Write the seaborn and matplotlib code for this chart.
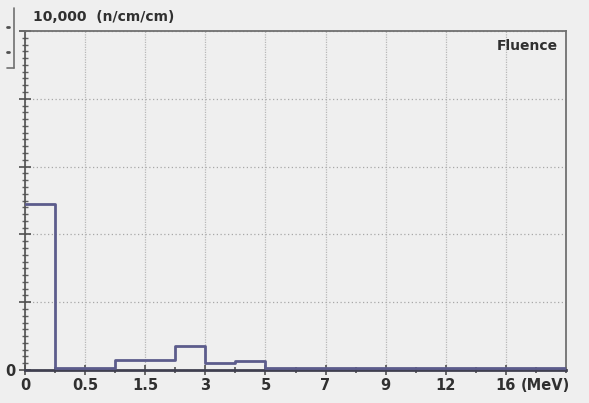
import numpy as np
import pandas as pd
import matplotlib
matplotlib.use("Agg")
import matplotlib.pyplot as plt
import seaborn as sns
from matplotlib.ticker import MultipleLocator, FixedLocator
from matplotlib.lines import Line2D

# ---- data (x in tick-position units; tick labels give the MeV energies) ----
tick_labels = ["0", "0.5", "1.5", "3", "5", "7", "9", "12", "16"]
bin_left = [0.0, 0.5, 1.0, 1.5, 2.0, 2.5, 3.0, 3.5, 4.0]
bin_right_end = 9.0
fluence = [4900, 60, 60, 300, 300, 700, 200, 260, 60]
y_max = 10000
y_unit_label = "10,000  (n/cm/cm)"
series_label = "Fluence"
x_unit_label = "(MeV)"

sns.set_style("white")
plt.rcParams["font.family"] = ["DejaVu Sans"]

bg = "#efefef"
W, H = 589, 403
fig = plt.figure(figsize=(5.89, 4.03), dpi=100, facecolor=bg)
ax = fig.add_axes([25 / W, 1 - 370 / H, (566 - 25) / W, (370 - 31) / H])
ax.set_facecolor(bg)

df = pd.DataFrame({"x": bin_left + [bin_right_end], "y": fluence + [fluence[-1]]})
sns.lineplot(data=df, x="x", y="y", ax=ax, drawstyle="steps-post",
             color="#5c5c8c", linewidth=2.0, sort=False, zorder=5)

ax.set_xlim(0, 9.0)
ax.set_ylim(0, y_max)

# ticks
ax.xaxis.set_major_locator(FixedLocator(range(len(tick_labels))))
ax.set_xticklabels(tick_labels, fontsize=10.5, fontweight="bold", color="#303030")
ax.xaxis.set_minor_locator(MultipleLocator(0.5))
ax.set_yticks([0, 2000, 4000, 6000, 8000, 10000])
ax.yaxis.set_minor_locator(MultipleLocator(200))
ax.set_yticklabels(["0", "", "", "", "", ""], fontsize=10.5, fontweight="bold", color="#303030")
ax.tick_params(axis="x", which="both", bottom=True)
ax.tick_params(axis="y", which="both", left=True)
ax.tick_params(axis="x", which="major", direction="inout", length=7, width=1.2,
               color="#505050", pad=2.5)
ax.tick_params(axis="x", which="minor", direction="inout", length=4, width=1.2,
               color="#505050")
ax.tick_params(axis="y", which="major", direction="inout", length=9, width=1.2,
               color="#505050", pad=2)
ax.tick_params(axis="y", which="minor", direction="inout", length=5, width=1.0,
               color="#606060")
ax.set_xlabel("")
ax.set_ylabel("")

# grid
ax.grid(True, axis="x", which="major", color="#b8b8b8", linestyle=(0, (1, 1)), linewidth=0.9)
ax.grid(True, axis="y", which="major", color="#a8a8a8", linestyle=(0, (1, 2)), linewidth=0.9)

for side in ["top", "right"]:
    ax.spines[side].set_color("#707070")
    ax.spines[side].set_linewidth(1.3)
ax.spines["left"].set_color("#505050")
ax.spines["left"].set_linewidth(1.2)
ax.spines["bottom"].set_color("#404050")
ax.spines["bottom"].set_linewidth(2.0)

# texts
fig.text(33 / W, 1 - 17 / H, y_unit_label, fontsize=10, fontweight="bold",
         color="#303030", ha="left", va="center")
ax.text(0.985, 0.955, series_label, transform=ax.transAxes, fontsize=10,
        fontweight="bold", color="#303030", ha="right", va="center")
ax.annotate(x_unit_label, xy=(8.65, 0), xycoords="data", xytext=(0, -6),
            textcoords="offset points", fontsize=10.5, fontweight="bold",
            color="#303030", ha="center", va="top", annotation_clip=False)

# small scroll bracket at top-left corner (decoration)
def fl(x0, y0, x1, y1, **kw):
    fig.add_artist(Line2D([x0 / W, x1 / W], [1 - y0 / H, 1 - y1 / H],
                          transform=fig.transFigure, **kw))
fl(14, 8, 14, 68, color="#707070", linewidth=1.2)
fl(7, 68, 14, 68, color="#707070", linewidth=1.2)
fl(7, 27, 9, 27, color="#505050", linewidth=2)
fl(7, 52, 9, 52, color="#505050", linewidth=2)

fig.savefig("out.png", dpi=100, facecolor=bg)
